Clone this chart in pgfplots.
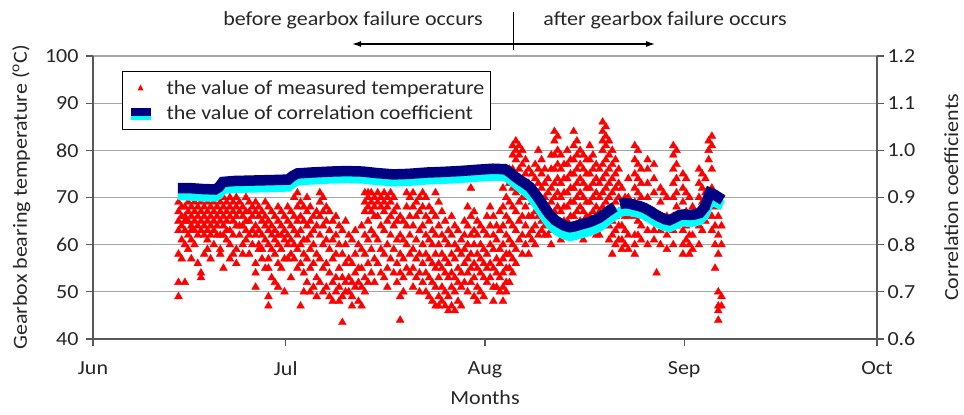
\documentclass[border=0pt]{standalone}
\usepackage{fontspec}
\setmainfont{Carlito}[FakeStretch=1.1]
\usepackage{pgfplots}
\pgfplotsset{compat=1.18}
\usetikzlibrary{arrows.meta}
\definecolor{navyc}{HTML}{000080}
\definecolor{cyanc}{HTML}{00FFFF}
\definecolor{axgray}{HTML}{595959}
\definecolor{gridgray}{HTML}{A6A6A6}
\definecolor{txt}{HTML}{262626}
\newcommand\fs{\fontsize{20bp}{24bp}\selectfont}
\begin{document}
\begin{tikzpicture}[x=1bp,y=1bp]
\useasboundingbox (0,0) rectangle (964,414);
\pgfplotsset{
  base/.style={
    at={(93bp,75bp)}, anchor=south west,
    scale only axis, width=784bp, height=283bp,
    xmin=0, xmax=122,
    tick align=outside, major tick length=7bp,
    tick style={axgray, line width=1.2bp},
    axis line style={-, axgray, line width=1.5bp},
    tick label style={font=\fs, text=txt},
    label style={font=\fs, text=txt},
    /pgf/number format/assume math mode=true,
  }
}
\begin{axis}[base,
  axis x line*=bottom, axis y line*=left,
  ymin=40, ymax=100, ytick={40,50,60,70,80,90,100},
  ymajorgrids, grid style={gridgray, line width=1.2bp},
  xtick={0,30,61,92,122}, xticklabels={Jun,Jul,Aug,Sep,Oct},
  xticklabel style={yshift=-12bp},
  yticklabel style={xshift=-4bp},
  xlabel={Months}, xlabel style={yshift=-6bp},
  ylabel={Gearbox bearing temperature (\textsuperscript{o}C)}, ylabel style={yshift=8bp},
]
\addplot[only marks, mark=triangle*, mark size=4.5bp, mark options={fill=red, draw=red}] coordinates {
(13.3,69) (13.3,67) (13.3,65) (13.3,63) (13.3,58) (13.3,52) (13.3,49)
(13.8,68) (13.8,66) (13.8,64) (13.8,61) (13.8,57)
(14.3,68) (14.3,66) (14.3,65) (14.3,63) (14.3,60) (14.3,52)
(14.8,69) (14.8,67) (14.8,65) (14.8,62) (14.8,59)
(15.3,68) (15.3,66) (15.3,64) (15.3,63) (15.3,61) (15.3,57)
(15.8,69) (15.8,67) (15.8,65) (15.8,63) (15.8,60)
(16.3,68) (16.3,66) (16.3,64) (16.3,62) (16.3,56)
(16.8,69) (16.8,67) (16.8,65) (16.8,63) (16.8,54) (16.8,53)
(17.3,68) (17.3,66) (17.3,64) (17.3,62) (17.3,58)
(17.8,69) (17.8,67) (17.8,65) (17.8,63) (17.8,61) (17.8,59)
(18.3,68) (18.3,66) (18.3,64) (18.3,62) (18.3,57)
(18.8,69) (18.8,67) (18.8,65) (18.8,63) (18.8,60)
(19.3,70) (19.3,68) (19.3,66) (19.3,64) (19.3,62)
(19.8,69) (19.8,67) (19.8,65) (19.8,62) (19.8,59) (19.8,58)
(20.3,70) (20.3,68) (20.3,66) (20.3,64) (20.3,62) (20.3,55)
(20.8,69) (20.8,67) (20.8,65) (20.8,63) (20.8,61)
(21.3,70) (21.3,68) (21.3,66) (21.3,63) (21.3,60) (21.3,57)
(21.8,69) (21.8,67) (21.8,65) (21.8,62) (21.8,58)
(22.3,70) (22.3,68) (22.3,66) (22.3,64) (22.3,59) (22.3,56)
(22.8,69) (22.8,67) (22.8,64) (22.8,62)
(23.3,68) (23.3,66) (23.3,64) (23.3,60) (23.3,58)
(23.8,70) (23.8,67) (23.8,65) (23.8,63) (23.8,61)
(24.3,69) (24.3,67) (24.3,65) (24.3,62) (24.3,58)
(24.8,68) (24.8,66) (24.8,63) (24.8,60)
(25.3,69) (25.3,67) (25.3,64) (25.3,62) (25.3,56) (25.3,54) (25.3,51)
(25.8,68) (25.8,66) (25.8,63) (25.8,60) (25.8,59)
(26.3,67) (26.3,65) (26.3,62) (26.3,59) (26.3,57)
(26.8,69) (26.8,66) (26.8,64) (26.8,61) (26.8,55)
(27.3,68) (27.3,65) (27.3,63) (27.3,60) (27.3,57) (27.3,55) (27.3,49) (27.3,47)
(27.8,67) (27.8,64) (27.8,62) (27.8,59) (27.8,53)
(28.3,66) (28.3,63) (28.3,61) (28.3,58) (28.3,52)
(28.8,68) (28.8,65) (28.8,62) (28.8,60) (28.8,56) (28.8,51)
(29.3,67) (29.3,64) (29.3,62) (29.3,59) (29.3,55)
(29.8,66) (29.8,63) (29.8,61) (29.8,57) (29.8,50)
(30.3,68) (30.3,65) (30.3,62) (30.3,60) (30.3,57)
(30.8,67) (30.8,64) (30.8,61) (30.8,58) (30.8,53)
(31.3,70) (31.3,66) (31.3,63) (31.3,60) (31.3,57)
(31.8,71) (31.8,68) (31.8,65) (31.8,62) (31.8,59) (31.8,55)
(32.3,69) (32.3,66) (32.3,63) (32.3,60) (32.3,56) (32.3,47)
(32.8,68) (32.8,65) (32.8,61) (32.8,58) (32.8,54) (32.8,50)
(33.3,70) (33.3,67) (33.3,64) (33.3,61) (33.3,57) (33.3,52)
(33.8,68) (33.8,65) (33.8,62) (33.8,59) (33.8,55) (33.8,50)
(34.3,66) (34.3,63) (34.3,60) (34.3,56) (34.3,51)
(34.8,67) (34.8,64) (34.8,58) (34.8,53) (34.8,49)
(35.3,71) (35.3,69) (35.3,66) (35.3,62) (35.3,57) (35.3,52)
(35.8,70) (35.8,67) (35.8,64) (35.8,60) (35.8,55) (35.8,50)
(36.3,68) (36.3,65) (36.3,61) (36.3,56) (36.3,51)
(36.8,67) (36.8,63) (36.8,59) (36.8,54) (36.8,49)
(37.3,65) (37.3,61) (37.3,57) (37.3,52) (37.3,48)
(37.8,66) (37.8,62) (37.8,58) (37.8,53) (37.8,50)
(38.3,64) (38.3,60) (38.3,55) (38.3,51) (38.3,48)
(38.8,63) (38.8,58) (38.8,53) (38.8,49) (38.8,43.5)
(39.3,65) (39.3,60) (39.3,56) (39.3,52) (39.3,50)
(39.8,62) (39.8,57) (39.8,53) (39.8,50)
(40.3,61) (40.3,56) (40.3,52) (40.3,49) (40.3,47)
(40.8,63) (40.8,58) (40.8,54) (40.8,51)
(41.3,60) (41.3,55) (41.3,52) (41.3,48)
(41.8,64) (41.8,59) (41.8,55) (41.8,51) (41.8,47)
(42.3,71) (42.3,69) (42.3,67) (42.3,62) (42.3,58) (42.3,53) (42.3,50)
(42.8,71) (42.8,70) (42.8,68) (42.8,65) (42.8,61) (42.8,56) (42.8,52)
(43.3,71) (43.3,69) (43.3,67) (43.3,63) (43.3,59) (43.3,54)
(43.8,70) (43.8,68) (43.8,66) (43.8,62) (43.8,57) (43.8,52)
(44.3,71) (44.3,69) (44.3,66) (44.3,61) (44.3,56)
(44.8,70) (44.8,68) (44.8,64) (44.8,59) (44.8,54)
(45.3,71) (45.3,69) (45.3,67) (45.3,63) (45.3,58) (45.3,53)
(45.8,70) (45.8,68) (45.8,65) (45.8,60) (45.8,55) (45.8,51)
(46.3,71) (46.3,69) (46.3,66) (46.3,62) (46.3,57)
(46.8,70) (46.8,67) (46.8,64) (46.8,59) (46.8,54)
(47.3,68) (47.3,65) (47.3,61) (47.3,56) (47.3,52)
(47.8,66) (47.8,62) (47.8,58) (47.8,54) (47.8,49) (47.8,44)
(48.3,65) (48.3,61) (48.3,57) (48.3,53) (48.3,50)
(48.8,71) (48.8,68) (48.8,64) (48.8,60) (48.8,55)
(49.3,70) (49.3,66) (49.3,62) (49.3,58) (49.3,54)
(49.8,71) (49.8,68) (49.8,64) (49.8,59) (49.8,55) (49.8,51)
(50.3,69) (50.3,66) (50.3,61) (50.3,57) (50.3,53)
(50.8,70) (50.8,67) (50.8,63) (50.8,58) (50.8,54) (50.8,50)
(51.3,71) (51.3,68) (51.3,64) (51.3,60) (51.3,56) (51.3,52)
(51.8,70) (51.8,66) (51.8,62) (51.8,58) (51.8,54) (51.8,50)
(52.3,68) (52.3,65) (52.3,61) (52.3,57) (52.3,53) (52.3,49)
(52.8,67) (52.8,63) (52.8,60) (52.8,56) (52.8,52) (52.8,48)
(53.3,71) (53.3,66) (53.3,62) (53.3,58) (53.3,55) (53.3,51) (53.3,47)
(53.8,69) (53.8,64) (53.8,60) (53.8,56) (53.8,53) (53.8,49) (53.8,47)
(54.3,67) (54.3,62) (54.3,58) (54.3,55) (54.3,51) (54.3,48)
(54.8,65) (54.8,61) (54.8,57) (54.8,54) (54.8,50) (54.8,47)
(55.3,63) (55.3,60) (55.3,56) (55.3,53) (55.3,49) (55.3,46)
(55.8,66) (55.8,62) (55.8,58) (55.8,54) (55.8,51) (55.8,47)
(56.3,64) (56.3,60) (56.3,57) (56.3,53) (56.3,50) (56.3,46)
(56.8,63) (56.8,59) (56.8,55) (56.8,52) (56.8,48)
(57.3,61) (57.3,58) (57.3,54) (57.3,51) (57.3,47)
(57.8,65) (57.8,62) (57.8,59) (57.8,56) (57.8,52)
(58.3,68) (58.3,64) (58.3,60) (58.3,57) (58.3,54) (58.3,50)
(58.8,72) (58.8,66) (58.8,62) (58.8,58) (58.8,55) (58.8,52)
(59.3,67) (59.3,63) (59.3,60) (59.3,56) (59.3,53) (59.3,49)
(59.8,65) (59.8,62) (59.8,58) (59.8,55) (59.8,51) (59.8,48)
(60.3,64) (60.3,60) (60.3,57) (60.3,54) (60.3,50)
(60.8,63) (60.8,59) (60.8,56) (60.8,53) (60.8,49)
(61.3,66) (61.3,62) (61.3,58) (61.3,55) (61.3,52)
(61.8,68) (61.8,64) (61.8,60) (61.8,56) (61.8,53)
(62.3,66) (62.3,62) (62.3,59) (62.3,55) (62.3,51) (62.3,48)
(62.8,64) (62.8,61) (62.8,57) (62.8,54) (62.8,51)
(63.3,67) (63.3,63) (63.3,59) (63.3,56) (63.3,53) (63.3,50)
(63.8,72) (63.8,68) (63.8,64) (63.8,60) (63.8,57) (63.8,54) (63.8,51) (63.8,48)
(64.3,70) (64.3,66) (64.3,62) (64.3,58) (64.3,55) (64.3,52) (64.3,50)
(64.8,76) (64.8,73) (64.8,69) (64.8,65) (64.8,61) (64.8,58) (64.8,55) (64.8,52)
(65.3,81) (65.3,79) (65.3,76) (65.3,72) (65.3,68) (65.3,64) (65.3,60) (65.3,57) (65.3,54)
(65.8,82) (65.8,80) (65.8,78) (65.8,75) (65.8,71) (65.8,67) (65.8,63) (65.8,59) (65.8,56)
(66.3,81) (66.3,79) (66.3,76) (66.3,73) (66.3,69) (66.3,65) (66.3,61)
(66.8,80) (66.8,77) (66.8,74) (66.8,70) (66.8,66) (66.8,62) (66.8,58)
(67.3,78) (67.3,75) (67.3,72) (67.3,68) (67.3,64) (67.3,60)
(67.8,76) (67.8,73) (67.8,70) (67.8,66) (67.8,62) (67.8,58)
(68.3,75) (68.3,72) (68.3,69) (68.3,66) (68.3,63) (68.3,61)
(68.8,77) (68.8,74) (68.8,70) (68.8,67) (68.8,64) (68.8,60)
(69.3,80) (69.3,76) (69.3,73) (69.3,70) (69.3,66) (69.3,62)
(69.8,78) (69.8,75) (69.8,72) (69.8,68) (69.8,65) (69.8,63)
(70.3,76) (70.3,73) (70.3,70) (70.3,67) (70.3,64) (70.3,62)
(70.8,74) (70.8,71) (70.8,68) (70.8,65) (70.8,62)
(71.3,79) (71.3,76) (71.3,72) (71.3,69) (71.3,66) (71.3,63) (71.3,60)
(71.8,84) (71.8,82) (71.8,79) (71.8,76) (71.8,73) (71.8,70) (71.8,67) (71.8,64)
(72.3,83) (72.3,80) (72.3,77) (72.3,74) (72.3,71) (72.3,68) (72.3,65)
(72.8,79) (72.8,76) (72.8,73) (72.8,70) (72.8,67) (72.8,64) (72.8,61)
(73.3,77) (73.3,74) (73.3,71) (73.3,68) (73.3,65) (73.3,62)
(73.8,80) (73.8,77) (73.8,74) (73.8,71) (73.8,68) (73.8,65) (73.8,62)
(74.3,78) (74.3,75) (74.3,72) (74.3,69) (74.3,66) (74.3,63)
(74.8,84) (74.8,81) (74.8,78) (74.8,75) (74.8,72) (74.8,69) (74.8,66) (74.8,63)
(75.3,82) (75.3,79) (75.3,76) (75.3,73) (75.3,70) (75.3,67) (75.3,64)
(75.8,80) (75.8,77) (75.8,74) (75.8,71) (75.8,68) (75.8,65) (75.8,62)
(76.3,79) (76.3,76) (76.3,73) (76.3,70) (76.3,67) (76.3,64) (76.3,61)
(76.8,78) (76.8,75) (76.8,72) (76.8,69) (76.8,66) (76.8,63)
(77.3,81) (77.3,78) (77.3,75) (77.3,72) (77.3,69) (77.3,66) (77.3,63)
(77.8,79) (77.8,76) (77.8,73) (77.8,70) (77.8,67) (77.8,64)
(78.3,77) (78.3,74) (78.3,71) (78.3,68) (78.3,65) (78.3,62)
(78.8,76) (78.8,73) (78.8,70) (78.8,67) (78.8,64) (78.8,62)
(79.3,86) (79.3,84) (79.3,82) (79.3,80) (79.3,77) (79.3,74) (79.3,71) (79.3,68) (79.3,65)
(79.8,85) (79.8,83) (79.8,81) (79.8,78) (79.8,75) (79.8,72) (79.8,69) (79.8,66)
(80.3,82) (80.3,79) (80.3,76) (80.3,73) (80.3,70) (80.3,67) (80.3,64) (80.3,61)
(80.8,80) (80.8,77) (80.8,74) (80.8,71) (80.8,68) (80.8,65) (80.8,62) (80.8,58)
(81.3,78) (81.3,75) (81.3,72) (81.3,69) (81.3,66) (81.3,63) (81.3,60)
(81.8,76) (81.8,73) (81.8,70) (81.8,67) (81.8,64) (81.8,61)
(82.3,72) (82.3,67) (82.3,64) (82.3,61) (82.3,59)
(82.8,70) (82.8,66) (82.8,63) (82.8,60)
(83.3,74) (83.3,70) (83.3,66) (83.3,62) (83.3,59)
(84.3,81) (84.3,78) (84.3,75) (84.3,72) (84.3,69) (84.3,66) (84.3,62) (84.3,60) (84.3,58)
(84.8,80) (84.8,77) (84.8,74) (84.8,71) (84.8,68) (84.8,65) (84.8,62)
(85.3,76) (85.3,73) (85.3,70) (85.3,67) (85.3,64) (85.3,61)
(86.3,78) (86.3,76) (86.3,73) (86.3,70) (86.3,67) (86.3,63) (86.3,60)
(87.3,77) (87.3,74) (87.3,71) (87.3,67) (87.3,63) (87.3,61)
(87.7,54)
(88.3,72) (88.3,69) (88.3,66) (88.3,63) (88.3,60)
(88.8,71)
(89.3,70) (89.3,66) (89.3,62) (89.3,59)
(90.3,81) (90.3,79) (90.3,76) (90.3,73) (90.3,70) (90.3,66) (90.3,63) (90.3,60)
(90.8,80) (90.8,77) (90.8,74) (90.8,71) (90.8,68) (90.8,64)
(91.8,75) (91.8,72) (91.8,69) (91.8,66) (91.8,63) (91.8,60) (91.8,58)
(92.3,74) (92.3,71) (92.3,67) (92.3,64) (92.3,61)
(92.8,70) (92.8,66) (92.8,62) (92.8,60) (92.8,58)
(93.3,68) (93.3,65) (93.3,62) (93.3,59)
(94.3,76) (94.3,73) (94.3,70) (94.3,67) (94.3,64) (94.3,60)
(94.8,75) (94.8,72) (94.8,69) (94.8,66) (94.8,63)
(95.3,74) (95.3,71) (95.3,68) (95.3,65)
(95.8,82) (95.8,80) (95.8,78)
(96.3,83) (96.3,81) (96.3,76) (96.3,72) (96.3,69) (96.3,66) (96.3,63)
(96.8,68) (96.8,64) (96.8,60) (96.8,55)
(97.3,66) (97.3,62) (97.3,58) (97.3,50) (97.3,47) (97.3,46) (97.3,44)
(97.8,64) (97.8,60) (97.8,49) (97.8,47)
};
\end{axis}
\begin{axis}[base,
  axis x line=none, axis y line*=right,
  ymin=0.6, ymax=1.2, ytick={0.6,0.7,0.8,0.9,1.0,1.1,1.2},
  yticklabel style={/pgf/number format/.cd, fixed, fixed zerofill, precision=1},
  ylabel={Correlation coefficients}, ylabel style={yshift=-22bp},
  unbounded coords=jump,
  legend cell align=left,
  legend style={at={(0.037,0.947)}, anchor=north west, draw=black, line width=1bp,
    font=\fs, text=txt, fill=white, inner xsep=6bp, inner ysep=4bp, row sep=0bp,
    nodes={inner xsep=0bp, inner ysep=0bp}},
]
\addlegendimage{legend image code/.code={
  \path[draw=none, fill=none] (0bp,-12.5bp) rectangle (38bp,12.5bp);
  \fill[red, draw=none] (9bp,-2.5bp) -- (15bp,-2.5bp) -- (12bp,3.5bp) -- cycle;}}
\addlegendentry{the value of measured temperature}
\addlegendimage{legend image code/.code={
  \path[draw=none, fill=none] (0bp,-12.5bp) rectangle (38bp,12.5bp);
  \fill[cyanc, draw=none] (2bp,-7bp) rectangle (22bp,-2bp);
  \fill[navyc, draw=none] (2bp,-3bp) rectangle (22bp,5bp);}}
\addlegendentry{the value of correlation coefficient}
\addplot[cyanc, line width=10bp, forget plot] coordinates {
(13.2,0.905) (15,0.904) (17,0.902) (19,0.902) (19.6,0.907) (20.2,0.918) (22,0.920)
(25,0.921) (28,0.922) (30.4,0.923) (31,0.930) (31.8,0.936) (34,0.938) (37,0.940)
(39.5,0.941) (42,0.940) (44,0.937) (46.7,0.934) (49,0.935) (52,0.938) (54,0.939)
(57,0.941) (60,0.944) (62.2,0.946) (64.1,0.945) (64.8,0.940) (65.6,0.931) (66.4,0.922)
(67.2,0.914) (68.0,0.905) (68.8,0.890) (69.5,0.876) (70.3,0.859) (71.1,0.844)
(71.9,0.833) (72.6,0.827) (73.4,0.821) (74.2,0.818) (75.0,0.820) (75.7,0.823)
(76.5,0.826) (77.3,0.829) (78.0,0.833) (78.8,0.838) (79.6,0.846) (80.4,0.855)
(81.2,0.863) (82.0,0.869) (82.7,0.872) (83.5,0.871) (84.3,0.869) (85.0,0.867)
(85.8,0.863) (86.6,0.857) (87.4,0.850) (88.2,0.844) (89.0,0.839) (89.7,0.837)
(90.5,0.842) (91.3,0.848) (92.0,0.849) (92.8,0.848) (93.6,0.849) (94.4,0.852)
(95.2,0.864) (95.6,0.879) (96.0,0.894) (96.7,0.891) (97.5,0.886) (98.0,0.883)
};
\addplot[navyc, line width=10.5bp, forget plot] coordinates {
(13.2,0.920) (15,0.920) (17,0.918) (19,0.917) (19.6,0.922) (20.2,0.933) (22,0.935)
(25,0.936) (28,0.937) (30.4,0.938) (31,0.945) (31.8,0.951) (34,0.953) (37,0.955)
(39.5,0.956) (42,0.955) (44,0.952) (46.7,0.949) (49,0.950) (52,0.953) (54,0.954)
(57,0.956) (60,0.959) (62.2,0.961) (64.1,0.960) (64.8,0.954) (65.6,0.945) (66.4,0.937)
(67.2,0.930) (68.0,0.922) (68.8,0.908) (69.5,0.895) (70.3,0.878) (71.1,0.863)
(71.9,0.852) (72.6,0.846) (73.4,0.840) (74.2,0.837) (75.0,0.839) (75.7,0.842)
(76.5,0.845) (77.3,0.848) (78.0,0.852) (78.8,0.857) (79.6,0.865) (80.4,0.873)
(81.2,0.880) (81.5,nan) (82.0,0.886) (82.7,0.888) (83.5,0.887) (84.3,0.884) (85.0,0.882)
(85.8,0.878) (86.6,0.872) (87.4,0.865) (88.2,0.859) (89.0,0.854) (89.7,0.852)
(90.5,0.857) (91.3,0.863) (92.0,0.864) (92.8,0.863) (93.6,0.864) (94.4,0.867)
(95.2,0.880) (95.6,0.895) (96.0,0.910) (96.7,0.906) (97.5,0.899) (98.0,0.895)
};
\end{axis}
\node[font=\fs, text=txt] at (353,394) {before gearbox failure occurs};
\node[font=\fs, text=txt] at (665,394) {after gearbox failure occurs};
\draw[black, line width=1bp] (513,402) -- (513,364);
\draw[black, line width=1.2bp, -{Latex[length=9bp,width=6bp]}] (513,370) -- (352,370);
\draw[black, line width=1.2bp, -{Latex[length=9bp,width=6bp]}] (513,370) -- (655,370);
\end{tikzpicture}
\end{document}
